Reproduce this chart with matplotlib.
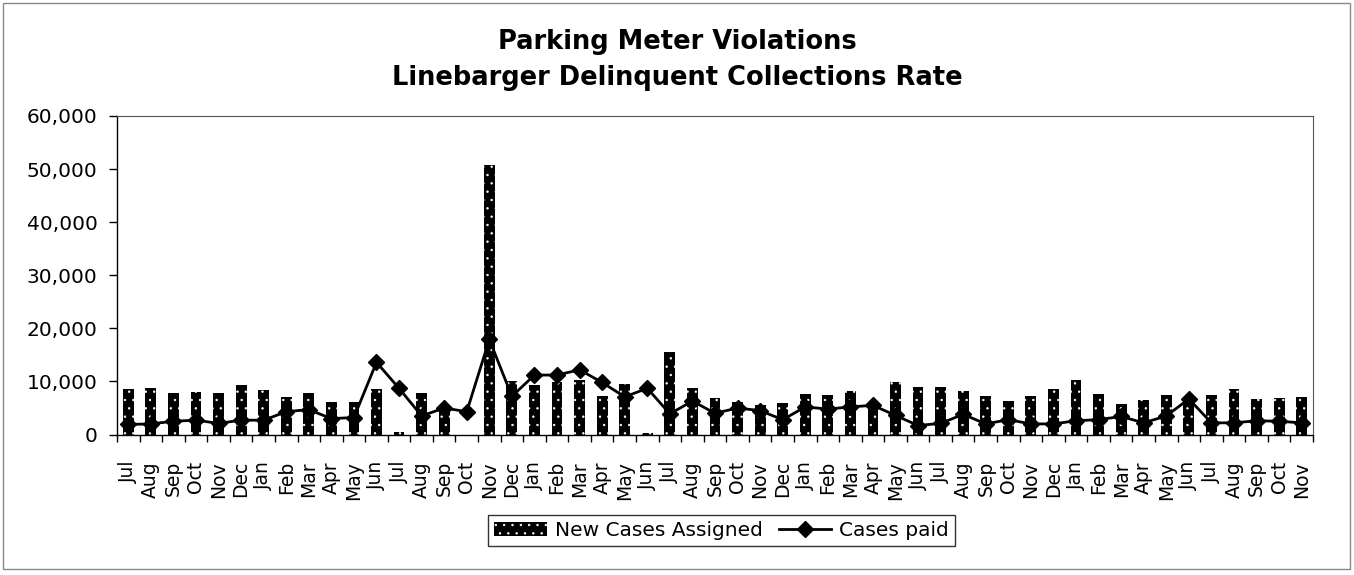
import numpy as np
import matplotlib
matplotlib.use('Agg')
from matplotlib import pyplot as plt
from matplotlib.patches import Rectangle
from matplotlib.ticker import FuncFormatter

plt.rcParams['font.family'] = ['DejaVu Sans']
plt.rcParams['hatch.color'] = 'white'
plt.rcParams['hatch.linewidth'] = 0.5

# month labels, Jul .. Nov over four and a half years
months = (['Jul', 'Aug', 'Sep', 'Oct', 'Nov', 'Dec',
           'Jan', 'Feb', 'Mar', 'Apr', 'May', 'Jun'] * 5)[:53]

new_cases = [8600, 8800, 7800, 8000, 7800, 9400, 8400, 7000, 7800, 6200, 6200, 8600,
             400, 7900, 5600, 0, 50700, 10000, 9300, 9900, 10300, 7200, 9500, 300,
             15600, 8800, 6800, 6200, 5600, 5900, 7600, 7400, 8200, 5800, 9800, 9000,
             8900, 8200, 7200, 6300, 7300, 8500, 10300, 7700, 5800, 6500, 7400, 6100,
             7400, 8600, 6600, 6800, 7100]

cases_paid = [1900, 2000, 2500, 2700, 2100, 2700, 2700, 4300, 4700, 3000, 3200, 13600,
              8700, 3500, 5000, 4300, 17900, 7200, 11200, 11200, 12200, 9800, 7100, 8700,
              3900, 6300, 4000, 5000, 4500, 2800, 5200, 4800, 5200, 5500, 3600, 1700,
              2100, 3800, 2000, 2800, 2000, 2000, 2600, 2800, 3400, 2200, 3500, 6700,
              2200, 2200, 2600, 2500, 2200]

x = np.arange(len(months))

fig = plt.figure(figsize=(13.54, 5.75), dpi=100)
ax = fig.add_axes([0.0864, 0.2443, 0.8833, 0.554])

bars = ax.bar(x, new_cases, width=0.48, color='black', hatch='..',
              label='New Cases Assigned', zorder=2)
line, = ax.plot(x, cases_paid, color='black', lw=2, marker='D', markersize=8.5,
                label='Cases paid', zorder=3)

ax.set_xlim(-0.5, len(months) - 0.5)
ax.set_ylim(0, 60000)
ax.set_yticks(np.arange(0, 60001, 10000))
ax.yaxis.set_major_formatter(FuncFormatter(lambda v, p: f'{int(v):,}'))
ax.tick_params(axis='y', direction='out', length=6, width=1, pad=8, labelsize=14.5)

ax.set_xticks(x)
ax.set_xticklabels(months, rotation=90, fontsize=13.5)
ax.set_xticks(np.arange(-0.5, len(months)), minor=True)
ax.tick_params(axis='x', which='major', length=0, pad=19)
ax.tick_params(axis='x', which='minor', direction='out', length=5, width=1)

for s in ['left', 'bottom']:
    ax.spines[s].set_color('black')
    ax.spines[s].set_linewidth(1)
for s in ['top', 'right']:
    ax.spines[s].set_color('#555555')
    ax.spines[s].set_linewidth(0.8)

fig.text(0.5, 1 - 49 / 575, 'Parking Meter Violations', ha='center', va='baseline',
         fontsize=18.5, fontweight='bold')
fig.text(0.5, 1 - 85 / 575, 'Linebarger Delinquent Collections Rate', ha='center',
         va='baseline', fontsize=18.5, fontweight='bold')

leg = fig.legend([bars, line], ['New Cases Assigned', 'Cases paid'], loc='center',
                 bbox_to_anchor=(0.533, 0.078), ncol=2, fontsize=14.5,
                 frameon=True, fancybox=False, edgecolor='black', handlelength=2.6,
                 columnspacing=0.8, handletextpad=0.4, borderpad=0.3)
leg.get_frame().set_linewidth(1)

# outer chart border
fig.patches.append(Rectangle((0.002, 0.01), 0.995, 0.985, transform=fig.transFigure,
                             fill=False, edgecolor='#888888', lw=1))

plt.savefig('out.png', dpi=100)
